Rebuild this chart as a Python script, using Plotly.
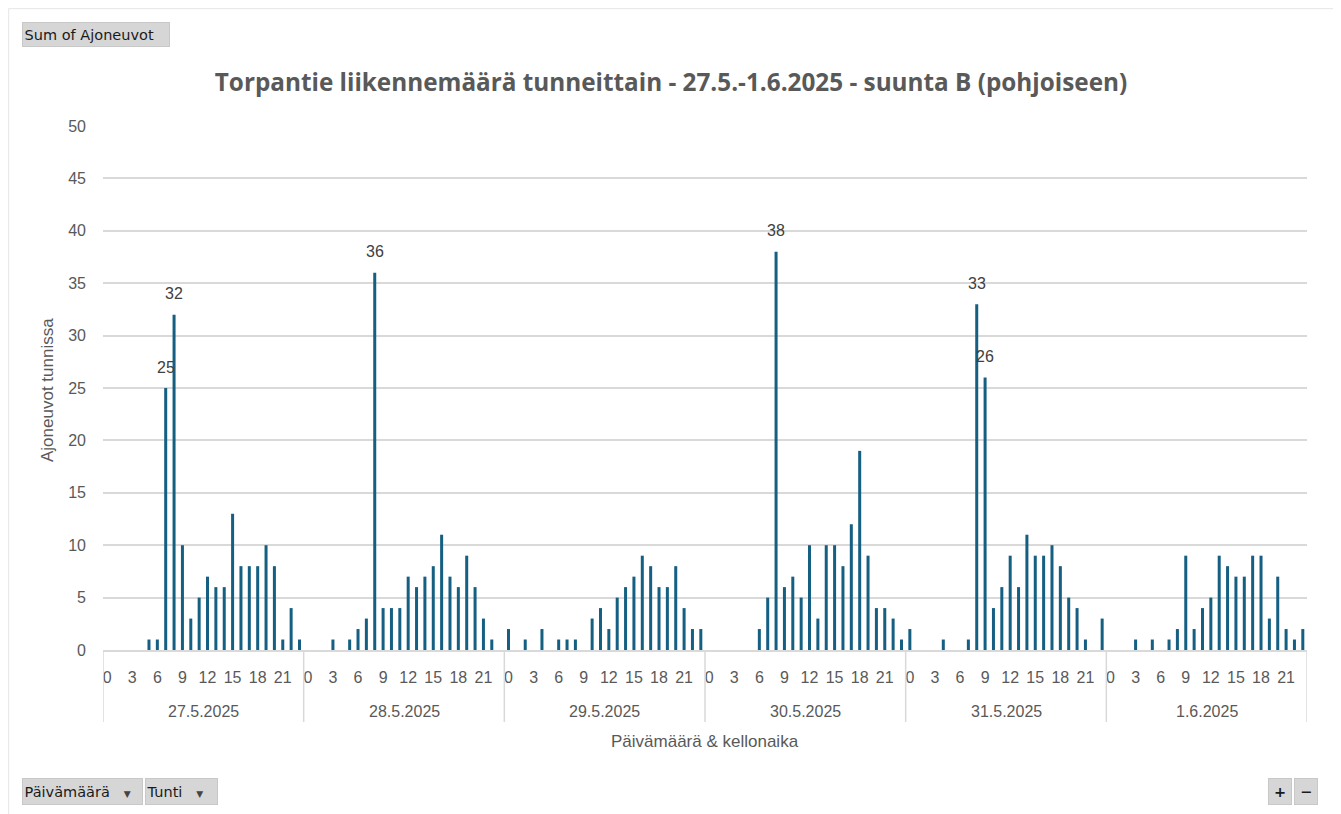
import plotly.graph_objects as go

# ---- data ----
days = ["27.5.2025", "28.5.2025", "29.5.2025", "30.5.2025", "31.5.2025", "1.6.2025"]
hours = list(range(24))
d_27_5 = [0, 0, 0, 0, 0, 1, 1, 25, 32, 10, 3, 5, 7, 6, 6, 13, 8, 8, 8, 10, 8, 1, 4, 1]
d_28_5 = [0, 0, 0, 1, 0, 1, 2, 3, 36, 4, 4, 4, 7, 6, 7, 8, 11, 7, 6, 9, 6, 3, 1, 0]
d_29_5 = [2, 0, 1, 0, 2, 0, 1, 1, 1, 0, 3, 4, 2, 5, 6, 7, 9, 8, 6, 6, 8, 4, 2, 2]
d_30_5 = [0, 0, 0, 0, 0, 0, 2, 5, 38, 6, 7, 5, 10, 3, 10, 10, 8, 12, 19, 9, 4, 4, 3, 1]
d_31_5 = [2, 0, 0, 0, 1, 0, 0, 1, 33, 26, 4, 6, 9, 6, 11, 9, 9, 10, 8, 5, 4, 1, 0, 3]
d_1_6 = [0, 0, 0, 1, 0, 1, 0, 1, 2, 9, 2, 4, 5, 9, 8, 7, 7, 9, 9, 3, 7, 2, 1, 2]
series = [d_27_5, d_28_5, d_29_5, d_30_5, d_31_5, d_1_6]
hour_tick_labels = ["0", "3", "6", "9", "12", "15", "18", "21"]
label_threshold = 25

title = "Torpantie liikennemäärä tunneittain - 27.5.-1.6.2025 - suunta B (pohjoiseen)"
y_title = "Ajoneuvot tunnissa"
x_title = "Päivämäärä & kellonaika"

# ---- build ----
x_vals, y_vals = [], []
for di, vals in enumerate(series):
    for h, v in zip(hours, vals):
        x_vals.append(di * 24 + h)
        y_vals.append(v)

tickvals = [di * 24 + int(t) for di in range(len(days)) for t in hour_tick_labels]
ticktext = [t for di in range(len(days)) for t in hour_tick_labels]

BAR = "#156082"
GRID = "#d9d9d9"
TXT = "#595959"

# page body margin offset (screen px -> figure px)
OFF = 8
SW, SH = 1341, 814
W, H = SW - OFF, SH - OFF
# plot area in screen px
L, R, T, B = 103, 1307, 126, 650

def px(x):
    return (x - L) / (R - L)

def py(y):
    return (B - y) / (B - T)

fig = go.Figure()
fig.add_trace(go.Bar(
    x=x_vals, y=y_vals, marker=dict(color=BAR, line=dict(width=0)),
    width=0.36, hoverinfo="x+y",
))

annotations = []
# data labels
for xv, yv in zip(x_vals, y_vals):
    if yv >= label_threshold:
        annotations.append(dict(x=xv, y=yv, xref="x", yref="y", text=str(yv),
                                showarrow=False, yanchor="middle", yshift=21,
                                font=dict(family="Liberation Sans", size=16, color="#404040")))
# date labels
for di, d in enumerate(days):
    annotations.append(dict(x=di * 24 + 11.5, y=py(711), xref="x", yref="paper", text=d,
                            showarrow=False, xanchor="center", yanchor="middle",
                            font=dict(family="Liberation Sans", size=16, color=TXT)))
# axis titles
annotations.append(dict(x=0.5, y=py(741), xref="paper", yref="paper", text=x_title,
                        showarrow=False, xanchor="center", yanchor="middle",
                        font=dict(family="Liberation Sans", size=17, color=TXT)))
annotations.append(dict(x=px(47), y=py(390), xref="paper", yref="paper", text=y_title,
                        showarrow=False, textangle=-90, xanchor="center", yanchor="middle",
                        font=dict(family="Liberation Sans", size=17, color=TXT)))

# pivot field buttons
def button(x0, x1, y0, y1, text, align="left"):
    annotations.append(dict(x=px(x0), y=py(y0), xref="paper", yref="paper", text=text,
                            showarrow=False, xanchor="left", yanchor="top",
                            width=x1 - x0 - 2, height=y1 - y0 - 2, align=align, valign="middle",
                            bgcolor="#d6d6d6", bordercolor="#c8c8c8", borderwidth=1, borderpad=0,
                            font=dict(family="DejaVu Sans", size=14.5, color="#1a1a1a")))

pad = "<span style='font-size:5px'>&nbsp;</span>"
button(22, 170, 22, 47, pad + "Sum of Ajoneuvot")
button(22, 143, 778, 805, pad + "Päivämäärä   <span style='font-size:9px;color:#444'>▼</span>")
button(145, 218, 778, 805, pad + "Tunti   <span style='font-size:9px;color:#444'>▼</span>")
button(1268, 1292, 778, 805, "<b>+</b>", align="center")
button(1294, 1318, 778, 805, "<b>−</b>", align="center")

shapes = []
# vertical dividers for date groups
for di in range(len(days) + 1):
    shapes.append(dict(type="line", xref="x", yref="paper", x0=di * 24 - 0.5, x1=di * 24 - 0.5,
                       y0=0, y1=py(722), line=dict(color=GRID, width=1.5)))
# chart outer border
shapes.append(dict(type="line", xref="paper", yref="paper", x0=px(1335), x1=px(1335),
                   y0=py(8.5), y1=py(814), line=dict(color="#d9d9d9", width=1.5)))
shapes.append(dict(type="line", xref="paper", yref="paper", x0=px(8.5), x1=px(1335),
                   y0=py(8.7), y1=py(8.7), line=dict(color="#e6e6e6", width=1)))
shapes.append(dict(type="line", xref="paper", yref="paper", x0=px(8.7), x1=px(8.7),
                   y0=py(8.5), y1=py(814), line=dict(color="#e6e6e6", width=1)))

fig.update_layout(
    width=W, height=H,
    margin=dict(l=L - OFF, r=SW - R, t=T - OFF, b=SH - B, pad=0),
    paper_bgcolor="white", plot_bgcolor="white",
    showlegend=False,
    title=dict(text="<b>" + title + "</b>", x=(671 - OFF) / W, xref="container", xanchor="center",
               y=1 - (82 - OFF) / H, yref="container", yanchor="middle",
               font=dict(family="Open Sans", size=24.3, color=TXT)),
    xaxis=dict(range=[-0.5, len(days) * 24 - 0.5], tickmode="array", tickvals=tickvals,
               ticktext=ticktext, showgrid=False, zeroline=False, showline=True,
               linecolor=GRID, linewidth=1.5, ticks="", ticklabelstandoff=12,
               tickfont=dict(family="Liberation Sans", size=16, color=TXT), tickangle=0),
    yaxis=dict(range=[0, 50], dtick=5, showgrid=True, gridcolor=GRID, gridwidth=1.5,
               zeroline=False, showline=False, ticks="", ticklabelstandoff=16,
               tickfont=dict(family="Liberation Sans", size=16, color=TXT)),
    annotations=annotations, shapes=shapes,
    bargap=0.6,
)

fig.write_html("out.html")
